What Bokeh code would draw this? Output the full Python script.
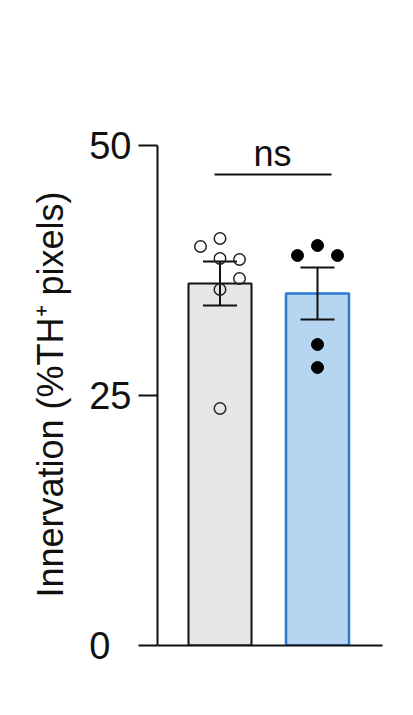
from bokeh.plotting import figure
from bokeh.models import ColumnDataSource, FixedTicker
from bokeh.core.properties import value
from bokeh.embed import file_html
from bokeh.resources import INLINE

# ---- data ----
groups = ["Control", "Treated"]
bar_means = [36.2, 35.2]
bar_sems = [2.2, 2.6]
ctrl_points = [39.9, 40.7, 38.7, 38.6, 36.7, 35.6, 23.7]
treat_points = [39.0, 40.0, 39.0, 30.1, 27.8]
y_ticks = [0, 25, 50]
y_label = "Innervation (%TH\u207a pixels)"
sig_text = "ns"
sig_level = 47.1

# ---- layout constants ----
centers = [1.25, 3.2]
bar_w = 1.26
cap_w = 0.68
ctrl_offsets = [-0.39, 0.0, 0.0, 0.39, 0.39, 0.0, 0.0]
treat_offsets = [-0.4, 0.0, 0.4, 0.0, 0.0]
FONT = "Liberation Sans"
INK = "#111111"

p = figure(width=405, height=707, x_range=(0, 4.5), y_range=(0, 50.2),
           output_backend="svg", toolbar_location=None,
           min_border_left=157, min_border_right=23,
           min_border_top=143, min_border_bottom=62)
p.grid.visible = False
p.outline_line_color = None
p.background_fill_color = "white"
p.border_fill_color = "white"

# y axis
ya = p.yaxis[0]
ya.ticker = FixedTicker(ticks=y_ticks)
ya.bounds = (0, 50)
ya.major_tick_out = 19
ya.major_tick_in = 0
ya.minor_tick_line_color = None
ya.axis_line_width = 2
ya.major_tick_line_width = 2
ya.axis_line_color = INK
ya.major_tick_line_color = INK
ya.major_label_text_font = FONT
ya.major_label_text_font_size = "38px"
ya.major_label_text_color = INK
ya.major_label_standoff = 7
ya.major_label_overrides = {0: "0\u2007"}
ya.axis_label = y_label
ya.axis_label_text_font = FONT
ya.axis_label_text_font_size = "36px"
ya.axis_label_text_font_style = "normal"
ya.axis_label_text_color = INK
ya.axis_label_standoff = 15

# x axis: line only
xa = p.xaxis[0]
xa.ticker = FixedTicker(ticks=[])
xa.major_tick_line_color = None
xa.minor_tick_line_color = None
xa.axis_line_width = 2
xa.axis_line_color = INK

# bars
bars = ColumnDataSource(dict(x=centers, top=bar_means, name=groups,
                             fill=["#e6e6e6", "#b5d5f0"],
                             line=[INK, "#2a7bd4"],
                             lw=[2, 2.5]))
p.vbar(x="x", top="top", width=bar_w, bottom=0, source=bars,
       fill_color="fill", line_color="line", line_width="lw")

# error bars (mean +/- SEM)
lo = [m - s for m, s in zip(bar_means, bar_sems)]
hi = [m + s for m, s in zip(bar_means, bar_sems)]
p.segment(x0=centers, y0=lo, x1=centers, y1=hi, line_color=INK, line_width=2)
p.segment(x0=[c - cap_w / 2 for c in centers], y0=lo,
          x1=[c + cap_w / 2 for c in centers], y1=lo, line_color=INK, line_width=2)
p.segment(x0=[c - cap_w / 2 for c in centers], y0=hi,
          x1=[c + cap_w / 2 for c in centers], y1=hi, line_color=INK, line_width=2)

# individual points
p.scatter(x=[centers[0] + o for o in ctrl_offsets], y=ctrl_points, size=11.5,
          marker="circle", fill_color=None, line_color="#222222", line_width=1.5)
p.scatter(x=[centers[1] + o for o in treat_offsets], y=treat_points, size=12,
          marker="circle", fill_color="#000000", line_color="#000000", line_width=1)

# significance bracket
p.segment(x0=[1.14], y0=[sig_level], x1=[3.48], y1=[sig_level],
          line_color=INK, line_width=2)
p.text(x=[2.3], y=[49.2], text=[sig_text], text_font=value(FONT),
       text_font_size="36px", text_align="center", text_baseline="alphabetic",
       text_color=INK)

open("out.html", "w").write(file_html(p, INLINE))
